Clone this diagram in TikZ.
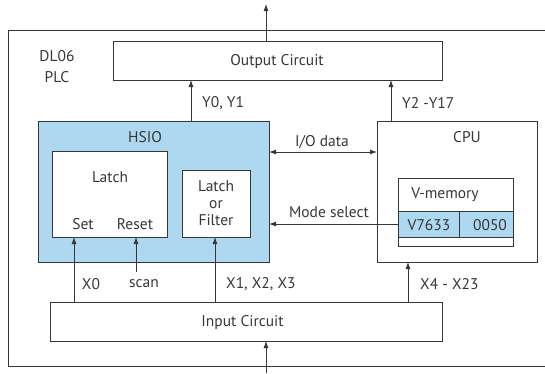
\documentclass[tikz,border=0pt]{standalone}
\usepackage{fontspec}
\setmainfont{PT Sans}
\usetikzlibrary{arrows.meta,calc}
\definecolor{hsioblue}{RGB}{173,216,240}
\definecolor{ink}{RGB}{55,55,55}
\begin{document}
\begin{tikzpicture}[x=1pt,y=-1pt,
  font=\fontsize{15.5}{18}\selectfont,
  box/.style={draw=ink,line width=0.9pt,fill=white,inner sep=0pt,outer sep=0pt},
  arr/.style={draw=ink,line width=0.8pt,-{Latex[length=7pt,width=5pt]}},
  darr/.style={draw=ink,line width=0.8pt,{Latex[length=7pt,width=5pt]}-{Latex[length=7pt,width=5pt]}},
  lbl/.style={text=ink,inner sep=0pt}]
\useasboundingbox (0,0) rectangle (545,373);
% outer frame (open on the right)
\draw[ink,line width=0.9pt] (545,30) -- (8,30) -- (8,366) -- (545,366);
\node[lbl,align=center,font=\fontsize{15.5}{21}\selectfont] (plc) at (57,67) {DL06\\PLC};
% boxes
\node[box,minimum width=329pt,minimum height=39pt] (output) at (277.5,60.5) {};
\node[lbl] (outputt) at (277,61.5) {Output Circuit};
\node[box,fill=hsioblue,minimum width=231pt,minimum height=141pt] (hsio) at (153.5,191.5) {};
\node[lbl] (hsiot) at (145,137) {HSIO};
\node[box,minimum width=115pt,minimum height=86pt] (latch) at (109.5,194) {};
\node[lbl] (latcht) at (110,177) {Latch};
\node[lbl] (sett) at (83,224.5) {Set};
\node[lbl] (resett) at (135,224.5) {Reset};
\node[box,minimum width=68pt,minimum height=67pt] (lof) at (216,203.5) {};
\node[lbl,align=center,font=\fontsize{15.5}{17}\selectfont] (loft) at (216,203.5) {Latch\\or\\Filter};
\node[box,minimum width=160pt,minimum height=141pt] (cpu) at (457,191.5) {};
\node[lbl] (cput) at (467,137) {CPU};
\node[box,minimum width=115pt,minimum height=68pt] (vmem) at (455.5,212) {};
\node[lbl] (vmemt) at (445,194.5) {V-memory};
\node[box,fill=hsioblue,minimum width=61pt,minimum height=26pt] (v1) at (428.5,224) {};
\node[box,fill=hsioblue,minimum width=54pt,minimum height=26pt] (v2) at (486,224) {};
\node[lbl] (v1t) at (429,225) {V7633};
\node[lbl] (v2t) at (490,225) {0050};
\node[box,minimum width=392pt,minimum height=39pt] (input) at (246,321.5) {};
\node[lbl] (inputt) at (242.5,322.5) {Input Circuit};
% coordinates
\coordinate (top) at (266,4);
\coordinate (bot) at (266,373);
\coordinate (xy0) at (191,0);
\coordinate (xy2) at (391,0);
\coordinate (xx0) at (74,0);
\coordinate (scan) at (136,272);
\coordinate (xx1) at (215,0);
\coordinate (xx4) at (408,0);
\coordinate (yio) at (0,152);
% connectors
\draw[arr] (output.north -| top) -- (top);
\draw[arr] (hsio.north -| xy0) -- (output.south -| xy0);
\draw[arr] (cpu.north -| xy2) -- (output.south -| xy2);
\draw[darr] (hsio.east |- yio) -- (cpu.west |- yio);
\draw[arr] (v1.west) -- (hsio.east |- v1.west);
\draw[arr] (input.north -| xx0) -- (latch.south -| xx0);
\draw[arr] (scan) -- (latch.south -| scan);
\draw[arr] (input.north -| xx1) -- (lof.south -| xx1);
\draw[arr] (input.north -| xx4) -- (cpu.south -| xx4);
\draw[arr] (bot) -- (input.south -| bot);
% labels
\node[lbl,anchor=west] (ly0) at (202,103) {Y0, Y1};
\node[lbl,anchor=west] (ly2) at (402,103) {Y2 -Y17};
\node[lbl] (lio) at (322,142) {I/O data};
\node[lbl] (lmode) at (329,212) {Mode select};
\node[lbl] (lx0) at (91,284) {X0};
\node[lbl] (lscan) at (144,284) {scan};
\node[lbl,anchor=west] (lx1) at (226,284) {X1, X2, X3};
\node[lbl,anchor=west] (lx4) at (420,284) {X4 - X23};
\end{tikzpicture}
\end{document}
